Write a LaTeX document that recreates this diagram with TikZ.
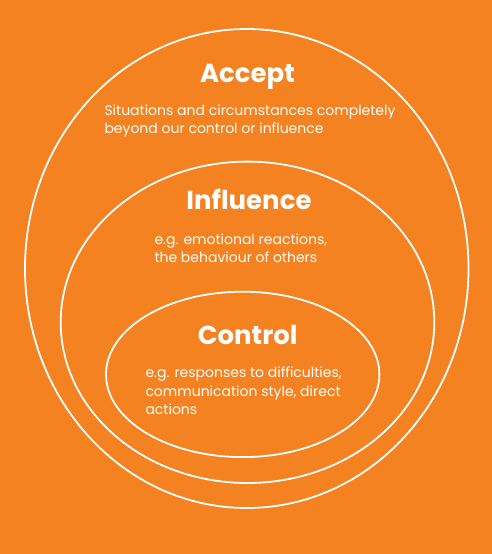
\documentclass[tikz,border=0pt]{standalone}
\usepackage{fontspec}
\setmainfont{Poppins}
\definecolor{bgorange}{RGB}{245,130,32}
\tikzset{
  ring/.style={draw=white, line width=1.8pt},
  title/.style={text=white, font=\fontsize{26}{30}\selectfont\bfseries, anchor=base, inner sep=0pt},
  body/.style={text=white, font=\fontsize{14}{18.3}\selectfont, anchor=base west, inner sep=0pt, align=left}
}
\begin{document}
\begin{tikzpicture}[x=1pt,y=-1pt]
\fill[bgorange] (0,0) rectangle (492,554);
\useasboundingbox (0,0) rectangle (492,554);
\draw[ring] (246.75,268.5) ellipse [x radius=221.75, y radius=239.5];
\draw[ring] (247.5,322.3) ellipse [x radius=186.8, y radius=160.7];
\draw[ring] (242.7,374.4) ellipse [x radius=136.7, y radius=82.7];
\node[title] (accept) at (247.5,82) {Accept};
\node[body] (acceptbody) at (104.3,133.7) {Situations and circumstances completely\\beyond our control or influence};
\node[title] (influence) at (249,209) {Influence};
\node[body] (influencebody) at (154.3,262.3) {e.g. emotional reactions,\\the behaviour of others};
\node[title] (control) at (247.7,344.5) {Control};
\node[body] (controlbody) at (145.3,414.5) {e.g. responses to difficulties,\\communication style, direct\\actions};
\end{tikzpicture}
\end{document}
